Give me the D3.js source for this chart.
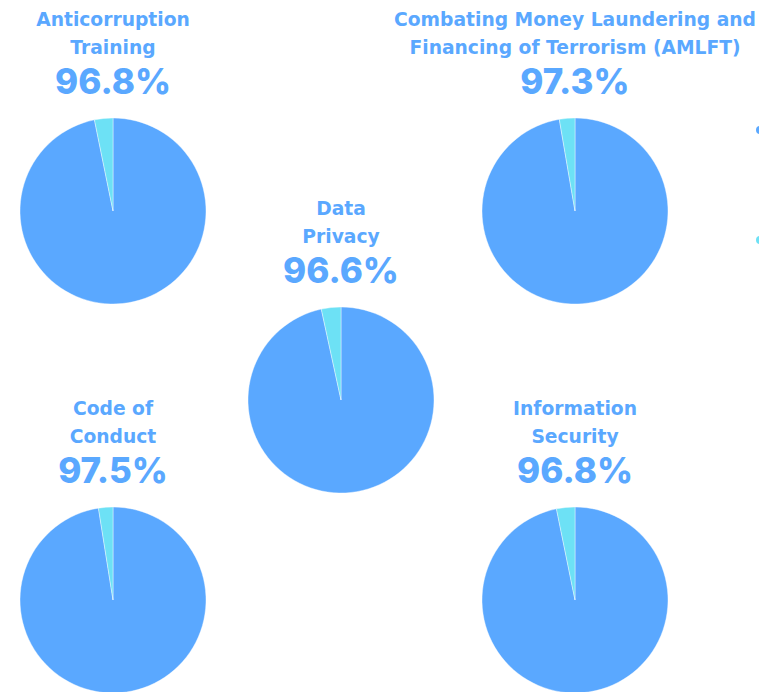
<!DOCTYPE html>
<html>
<head>
<meta charset="utf-8">
<script src="https://cdn.jsdelivr.net/npm/d3@7"></script>
<style>
  html, body { margin: 0; padding: 0; background: #fff; overflow: hidden; }
  svg { display: block; }
  .title { font-family: "DejaVu Sans", sans-serif; font-weight: 700; }
  .value { font-family: "Inter", "DejaVu Sans", sans-serif; font-weight: 800; }
</style>
</head>
<body>
<div id="chart"></div>
<script>
// Training completion rates, one pie per programme
const programmes = [
  ["Anticorruption", "Training"],
  ["Combating Money Laundering and", "Financing of Terrorism (AMLFT)"],
  ["Data", "Privacy"],
  ["Code of", "Conduct"],
  ["Information", "Security"]
];
const completed = [96.8, 97.3, 96.6, 97.5, 96.8];
const seriesNames = ["Completed", "Not completed"];
const seriesColors = ["#5aa8ff", "#6de1f5"];

// Grid slot of each pie: column (0..2) and row (0..2)
const slots = [[0, 0], [2, 0], [1, 1], [0, 2], [2, 2]];

const width = 759, height = 692;
const radius = 93;

const svg = d3.select("#chart").append("svg")
  .attr("width", width)
  .attr("height", height);

const x = d3.scaleLinear().domain([0, 1, 2]).range([113, 341, 575]);
const y = d3.scaleLinear().domain([0, 1, 2]).range([211, 400, 600]);

const pie = d3.pie().sort(null).value(d => d);
const arc = d3.arc().innerRadius(0).outerRadius(radius);
const color = d3.scaleOrdinal().domain(seriesNames).range(seriesColors);

programmes.forEach((lines, i) => {
  const g = svg.append("g")
    .attr("transform", `translate(${x(slots[i][0])},${y(slots[i][1])})`);

  const parts = [completed[i], +(100 - completed[i]).toFixed(1)];
  g.selectAll("path")
    .data(pie(parts))
    .join("path")
    .attr("d", arc)
    .attr("fill", (d, k) => color(seriesNames[k]))
    .attr("stroke", "#ffffff")
    .attr("stroke-width", 0.4);

  g.selectAll("text.title")
    .data(lines)
    .join("text")
    .attr("class", "title")
    .attr("text-anchor", "middle")
    .attr("y", (d, k) => -185 + k * 28)
    .attr("fill", seriesColors[0])
    .attr("font-size", 18.7)
    .text(d => d);

  g.append("text")
    .attr("class", "value")
    .attr("text-anchor", "middle")
    .attr("y", -117)
    .attr("fill", seriesColors[0])
    .attr("font-size", 35)
    .text(d3.format(".1f")(completed[i]) + "%");
});

// Legend markers at the right edge
svg.selectAll("circle.legend")
  .data(seriesNames)
  .join("circle")
  .attr("class", "legend")
  .attr("cx", 760)
  .attr("cy", (d, k) => 130 + k * 110)
  .attr("r", 4)
  .attr("fill", d => color(d));
</script>
</body>
</html>
